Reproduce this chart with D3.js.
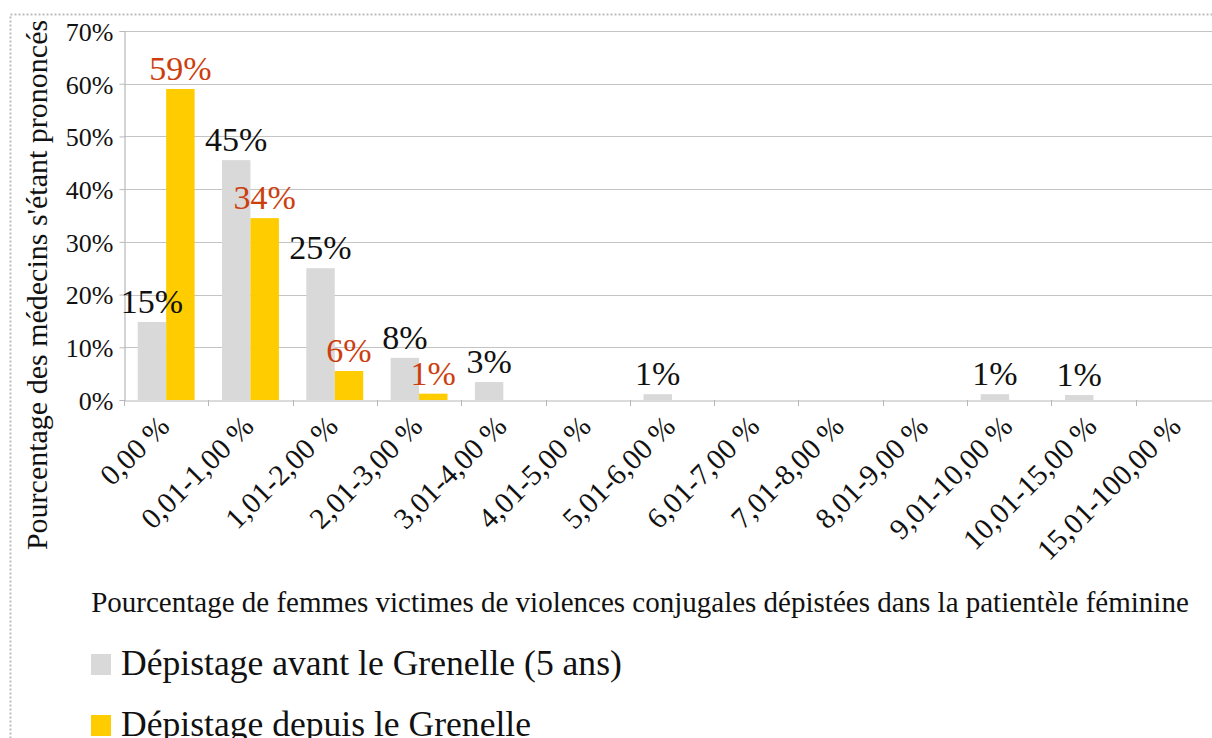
<!DOCTYPE html>
<html>
<head>
<meta charset="utf-8">
<script src="https://cdn.jsdelivr.net/npm/d3@7"></script>
<style>
  body { margin: 0; background: #fff; }
  svg { display: block; }
  svg text { font-family: "Liberation Serif", "Times New Roman", serif; }
</style>
</head>
<body>
<div id="main"></div>
<script>
// Data
const categories = ['0,00 %', '0,01-1,00 %', '1,01-2,00 %', '2,01-3,00 %', '3,01-4,00 %', '4,01-5,00 %',
  '5,01-6,00 %', '6,01-7,00 %', '7,01-8,00 %', '8,01-9,00 %', '9,01-10,00 %', '10,01-15,00 %', '15,01-100,00 %'];
const seriesNames = ['Dépistage avant le Grenelle (5 ans)', 'Dépistage depuis le Grenelle'];
const avantValues = [0.148, 0.455, 0.25, 0.08, 0.034, 0, 0.011, 0, 0, 0, 0.011, 0.0095, 0];
const avantLabels = ['15%', '45%', '25%', '8%', '3%', '', '1%', '', '', '', '1%', '1%', ''];
const depuisValues = [0.59, 0.345, 0.055, 0.012, 0, 0, 0, 0, 0, 0, 0, 0, 0];
const depuisLabels = ['59%', '34%', '6%', '1%', '', '', '', '', '', '', '', '', ''];
const yTicks = [0, 0.1, 0.2, 0.3, 0.4, 0.5, 0.6, 0.7];

const colors = ['#d9d9d9', '#ffcc00'];
const labelColors = ['#111', '#cc3e0e'];

// Size
const w = 1212;
const h = 738;
const plotLeft = 124;
const step = 84.3;
const plotTop = 31;
const plotBottom = 400;

let svg = d3.select('#main')
  .append('svg')
  .attr('width', w)
  .attr('height', h)

// dotted frame
svg.append('rect')
  .attr('x', 10.5).attr('y', 14.5)
  .attr('width', w + 20).attr('height', h + 20)
  .attr('fill', 'none')
  .attr('stroke', '#bdbdbd')
  .attr('stroke-width', 2)
  .attr('stroke-dasharray', '2,2')

const xScale = d3.scaleBand()
  .domain(categories)
  .range([plotLeft, plotLeft + step * categories.length])

const xSub = d3.scaleBand()
  .domain([0, 1])
  .range([13.7, step - 13.7])

const yScale = d3.scaleLinear()
  .domain([0, 0.7])
  .range([plotBottom, plotTop])

// gridlines
svg.append('g')
  .selectAll('line')
  .data(yTicks.slice(1))
  .enter()
  .append('line')
  .attr('x1', plotLeft).attr('x2', w)
  .attr('y1', (d) => Math.round(yScale(d)) + 0.5)
  .attr('y2', (d) => Math.round(yScale(d)) + 0.5)
  .attr('stroke', '#c4c4c4')
  .attr('stroke-width', 1.2)

// bars
const series = [avantValues, depuisValues];
const labels = [avantLabels, depuisLabels];
series.forEach((vals, s) => {
  svg.append('g')
    .selectAll('rect')
    .data(vals)
    .enter()
    .append('rect')
    .attr('x', (d, i) => xScale(categories[i]) + xSub(s))
    .attr('y', (d) => yScale(d))
    .attr('width', xSub.bandwidth())
    .attr('height', (d) => plotBottom - yScale(d))
    .attr('fill', colors[s])
})

// y axis
const yAxis = d3.axisLeft(yScale)
  .tickValues(yTicks)
  .tickFormat(d3.format('.0%'))
  .tickSize(5)
  .tickPadding(6)

const gy = svg.append('g')
  .attr('transform', `translate(${plotLeft + 0.5}, 0)`)
  .call(yAxis)
gy.select('.domain').attr('stroke', '#b8b8b8').attr('stroke-width', 1.2)
gy.selectAll('.tick line').attr('stroke', '#b8b8b8')
gy.selectAll('.tick text')
  .attr('font-size', 26)
  .attr('fill', '#111')
  .attr('dy', '0.36em')

// x axis
const xAxis = d3.axisBottom(xScale).tickSize(0).tickFormat('')
const gx = svg.append('g')
  .attr('transform', `translate(0, ${plotBottom + 0.5})`)
  .call(xAxis)
gx.select('.domain').attr('stroke', '#b8b8b8').attr('stroke-width', 1.2)

// tick marks at category boundaries
svg.append('g')
  .selectAll('line')
  .data(categories.concat(['end']))
  .enter()
  .append('line')
  .attr('x1', (d, i) => Math.round(plotLeft + step * i) + 0.5)
  .attr('x2', (d, i) => Math.round(plotLeft + step * i) + 0.5)
  .attr('y1', plotBottom)
  .attr('y2', plotBottom + 6)
  .attr('stroke', '#b8b8b8')

// rotated category labels
svg.append('g')
  .selectAll('text')
  .data(categories)
  .enter()
  .append('text')
  .attr('transform', (d) => `translate(${xScale(d) + xScale.bandwidth() / 2 + 5}, ${plotBottom + 28}) rotate(-45)`)
  .attr('text-anchor', 'end')
  .attr('font-size', 29.5)
  .attr('fill', '#111')
  .text((d) => d)

// data labels
series.forEach((vals, s) => {
  svg.append('g')
    .selectAll('text')
    .data(vals)
    .enter()
    .append('text')
    .attr('x', (d, i) => xScale(categories[i]) + xSub(s) + xSub.bandwidth() / 2)
    .attr('y', (d) => yScale(d) - 9)
    .attr('text-anchor', 'middle')
    .attr('font-size', 34)
    .attr('fill', labelColors[s])
    .text((d, i) => labels[s][i])
})

// axis titles
svg.append('text')
  .attr('x', 640)
  .attr('y', 612)
  .attr('text-anchor', 'middle')
  .attr('font-size', 29)
  .attr('fill', '#111')
  .text('Pourcentage de femmes victimes de violences conjugales dépistées dans la patientèle féminine')

svg.append('text')
  .attr('transform', `translate(47, 285) rotate(-90)`)
  .attr('text-anchor', 'middle')
  .attr('font-size', 30)
  .attr('fill', '#111')
  .text("Pourcentage des médecins s'étant prononcés")

// legend
const legend = svg.append('g')
  .selectAll('g')
  .data(seriesNames)
  .enter()
  .append('g')
  .attr('transform', (d, i) => `translate(91, ${654 + i * 61})`)

legend.append('rect')
  .attr('width', 20)
  .attr('height', 21)
  .attr('fill', (d, i) => colors[i])

legend.append('text')
  .attr('x', 30)
  .attr('y', 21)
  .attr('font-size', 35.6)
  .attr('fill', '#111')
  .text((d) => d)
</script>
</body>
</html>
